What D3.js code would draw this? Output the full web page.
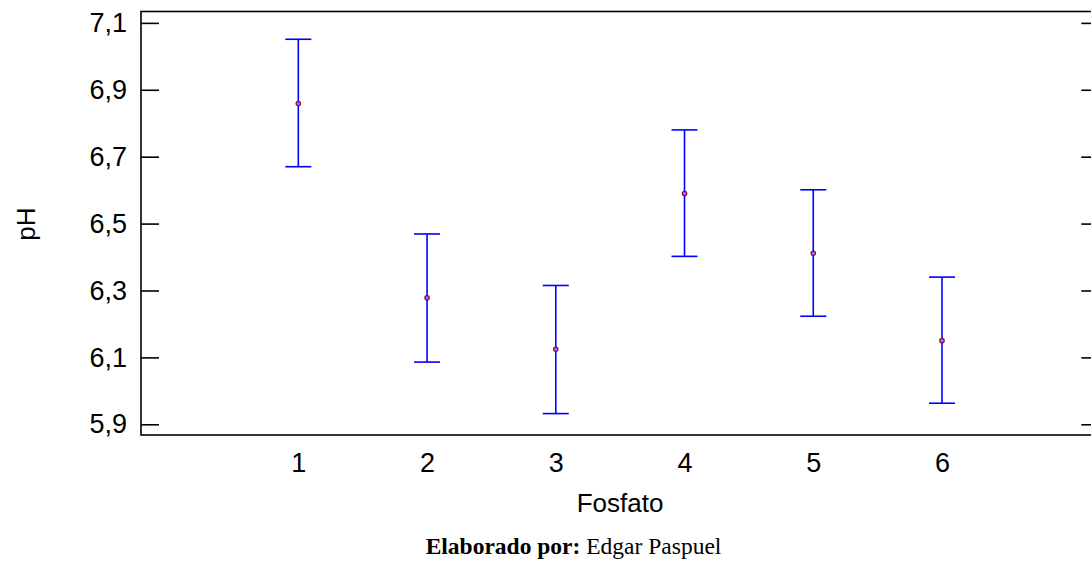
<!DOCTYPE html>
<html>
<head>
<meta charset="utf-8">
<script src="https://cdn.jsdelivr.net/npm/d3@7"></script>
<style>
  html, body { margin: 0; padding: 0; background: #fff; }
  svg { display: block; }
</style>
</head>
<body>
<svg id="chart" width="1091" height="561"></svg>
<script>
// Fosfato levels and pH means with their interval limits
const categories = [1, 2, 3, 4, 5, 6];
const means = [6.859, 6.278, 6.124, 6.590, 6.411, 6.150];
const lower = [6.670, 6.086, 5.932, 6.402, 6.223, 5.963];
const upper = [7.051, 6.469, 6.315, 6.780, 6.601, 6.340];
const yTicks = [5.9, 6.1, 6.3, 6.5, 6.7, 6.9, 7.1];
const xTicks = [1, 2, 3, 4, 5, 6];

const svg = d3.select("#chart");
const plotLeft = 141, plotRight = 1099.3, plotTop = 11.5, plotBottom = 435;

const x = d3.scaleLinear().domain([-0.222, 7.222]).range([plotLeft, plotRight]);
const y = d3.scaleLinear().domain([5.868, 7.134]).range([plotBottom, plotTop]);

const fmt = d => d3.format(".1f")(d).replace(".", ",");
const sans = "'Liberation Sans', Arial, sans-serif";

// frame
svg.append("rect")
  .attr("x", plotLeft).attr("y", plotTop)
  .attr("width", plotRight - plotLeft).attr("height", plotBottom - plotTop)
  .attr("fill", "none").attr("stroke", "#000").attr("stroke-width", 1.6);

// left axis: inward ticks
const yAxis = svg.append("g")
  .attr("transform", `translate(${plotLeft},0)`)
  .call(d3.axisLeft(y).tickValues(yTicks).tickSize(-18).tickPadding(14).tickFormat(fmt));
yAxis.select(".domain").remove();
yAxis.selectAll("line").attr("stroke", "#000").attr("stroke-width", 1.6);
yAxis.selectAll("text")
  .attr("font-family", sans).attr("font-size", 27).attr("fill", "#000");

// right axis: inward ticks, no labels
const yAxisR = svg.append("g")
  .attr("transform", `translate(${plotRight},0)`)
  .call(d3.axisRight(y).tickValues(yTicks).tickSize(-18).tickFormat(""));
yAxisR.select(".domain").remove();
yAxisR.selectAll("line").attr("stroke", "#000").attr("stroke-width", 1.6);

// bottom axis labels (no tick marks)
const xAxis = svg.append("g")
  .attr("transform", `translate(0,${plotBottom})`)
  .call(d3.axisBottom(x).tickValues(xTicks).tickSize(0).tickPadding(18).tickFormat(d3.format("d")));
xAxis.select(".domain").remove();
xAxis.selectAll("text")
  .attr("font-family", sans).attr("font-size", 27).attr("fill", "#000");

// error bars
const capHalf = 13;
const bars = svg.append("g").selectAll("g")
  .data(categories.map((c, i) => ({ c, m: means[i], lo: lower[i], hi: upper[i] })))
  .join("g");

bars.append("line")
  .attr("x1", d => x(d.c)).attr("x2", d => x(d.c))
  .attr("y1", d => y(d.lo)).attr("y2", d => y(d.hi))
  .attr("stroke", "#0000ff").attr("stroke-width", 1.6);
bars.append("line")
  .attr("x1", d => x(d.c) - capHalf).attr("x2", d => x(d.c) + capHalf)
  .attr("y1", d => y(d.hi)).attr("y2", d => y(d.hi))
  .attr("stroke", "#0000ff").attr("stroke-width", 1.6);
bars.append("line")
  .attr("x1", d => x(d.c) - capHalf).attr("x2", d => x(d.c) + capHalf)
  .attr("y1", d => y(d.lo)).attr("y2", d => y(d.lo))
  .attr("stroke", "#0000ff").attr("stroke-width", 1.6);
bars.append("circle")
  .attr("cx", d => x(d.c)).attr("cy", d => y(d.m))
  .attr("r", 2.2)
  .attr("fill", "#8080ff").attr("stroke", "#990040").attr("stroke-width", 1.2);

// axis titles
svg.append("text")
  .attr("x", 620).attr("y", 512)
  .attr("text-anchor", "middle")
  .attr("font-family", sans).attr("font-size", 26)
  .text("Fosfato");

svg.append("text")
  .attr("transform", "translate(35,224) rotate(-90)")
  .attr("text-anchor", "middle")
  .attr("font-family", sans).attr("font-size", 26)
  .text("pH");

// credit line
const credit = svg.append("text")
  .attr("x", 573.5).attr("y", 554)
  .attr("text-anchor", "middle")
  .attr("font-family", "'Liberation Serif', 'Times New Roman', serif")
  .attr("font-size", 23.5);
credit.append("tspan").attr("font-weight", "bold").text("Elaborado por:");
credit.append("tspan").text(" Edgar Paspuel");
</script>
</body>
</html>
